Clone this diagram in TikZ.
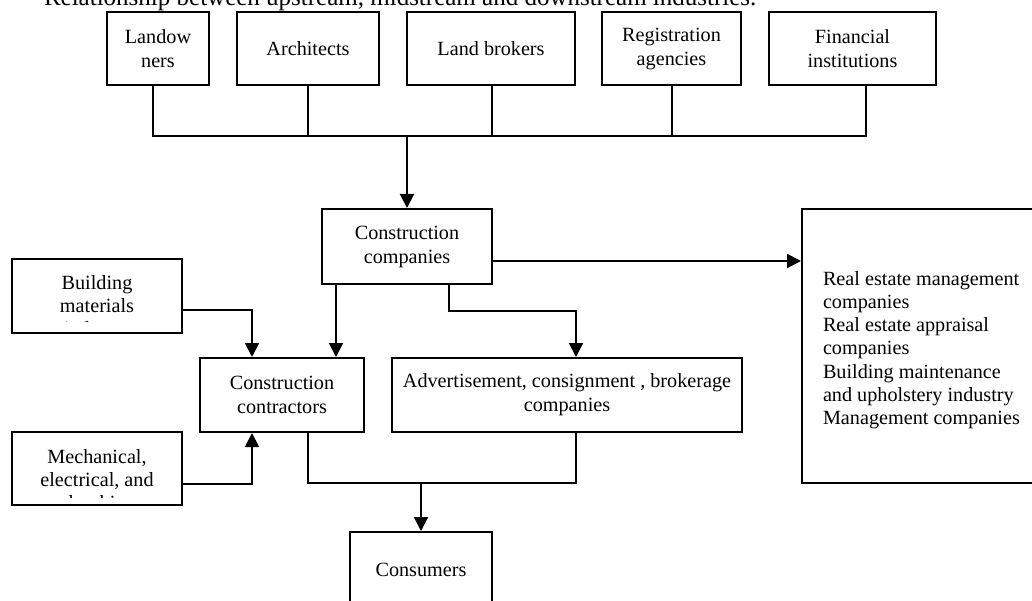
\documentclass[tikz,border=0pt]{standalone}
\usepackage{fontspec}
\setmainfont{Liberation Serif}
\usetikzlibrary{arrows.meta}
\newcommand\boxfont{\fontsize{20.2}{24}\selectfont}
\newcommand\rbfont{\fontsize{20.2}{23.3}\selectfont}
\newcommand\ttlfont{\fontsize{25}{30}\selectfont}
\begin{document}
\begin{tikzpicture}[x=1pt,y=-1pt, line width=2pt,
  box/.style={draw, line width=2pt, inner sep=2pt, align=center, font=\boxfont},
  arr/.style={-{Triangle[length=14pt,width=14pt]}}]
\useasboundingbox (0,0) rectangle (1032,601);
\clip (0,0) rectangle (1032,601);
% title (cut at the top, as in the reference)
\node[anchor=base west, inner sep=0, font=\ttlfont] (title) at (43,6) {Relationship between upstream, midstream and downstream industries.};
% top row
\node[box, minimum width=102pt, minimum height=73pt] (lo) at (158,48.5) {Landow\\ners};
\node[box, minimum width=142pt, minimum height=73pt] (ar) at (308,48.5) {Architects};
\node[box, minimum width=168pt, minimum height=73pt] (lb) at (491,48.5) {Land brokers};
\node[box, minimum width=139pt, minimum height=73pt] (ra) at (671.5,48.5) {Registration\\agencies};
\node[box, minimum width=167pt, minimum height=73pt] (fi) at (852.5,48.5) {Financial\\institutions};
% middle
\node[box, minimum width=170pt, minimum height=75pt] (cc) at (407,246.5) {Construction\\companies};
\node[box, minimum width=164pt, minimum height=74pt] (ct) at (282,395) {Construction\\contractors};
\node[box, minimum width=350pt, minimum height=74pt] (ad) at (567,395) {Advertisement, consignment , brokerage\\companies};
\node[box, minimum width=142pt, minimum height=76pt] (co) at (421,570) {Consumers};
% left boxes with cut text
\node[box, minimum width=170pt, minimum height=74pt] (bm) at (97,296) {};
\begin{scope}
\clip (12,259) rectangle (182,321);
\node[inner sep=0, align=center, font=\rbfont, anchor=north] (bmtext) at (97,274) {Building\\materials\\industry};
\end{scope}
\node[box, minimum width=170pt, minimum height=73pt] (me) at (97,468.5) {};
\begin{scope}
\clip (12,432) rectangle (182,497);
\node[inner sep=0, align=center, font=\rbfont, anchor=north] (metext) at (97,448) {Mechanical,\\electrical, and\\plumbing};
\end{scope}
% right box
\node[draw, minimum width=260pt, minimum height=274pt] (re) at (932,346) {};
\node[anchor=north west, inner sep=0, align=left, font=\rbfont] (retext) at (822,270) {Real estate management\\companies\\Real estate appraisal\\companies\\Building maintenance\\and upholstery industry\\Management companies};
% helper rows
\coordinate (bus) at (407,136);
\coordinate (ya) at (0,261);
\coordinate (yb) at (0,310);
\coordinate (ym) at (0,484);
\coordinate (yc) at (0,483);
% top bus
\draw ([xshift=-5pt]lo.south) |- ([xshift=13.5pt]fi.south |- bus) -- ([xshift=13.5pt]fi.south);
\draw (ar.south) -- (ar.south |- bus);
\draw ([xshift=1pt]lb.south) -- ([xshift=1pt]lb.south |- bus);
\draw ([xshift=0.5pt]ra.south) -- ([xshift=0.5pt]ra.south |- bus);
\draw[arr] (bus) -- (cc.north);
% from construction companies
\draw[arr] (cc.east |- ya) -- (re.west |- ya);
\draw[arr] ([xshift=-71pt]cc.south) -- ([xshift=54pt]ct.north);
\draw[arr] ([xshift=42pt]cc.south) -- ++(0,26) -| ([xshift=9pt]ad.north);
% suppliers into contractors
\draw[arr] (bm.east |- yb) -| ([xshift=-30pt]ct.north);
\draw[arr] (me.east |- ym) -| ([xshift=-30pt]ct.south);
% to consumers
\draw ([xshift=26pt]ct.south) |- ([xshift=9pt]ad.south |- yc) -- ([xshift=9pt]ad.south);
\draw[arr] (co.north |- yc) -- (co.north);
\end{tikzpicture}
\end{document}
